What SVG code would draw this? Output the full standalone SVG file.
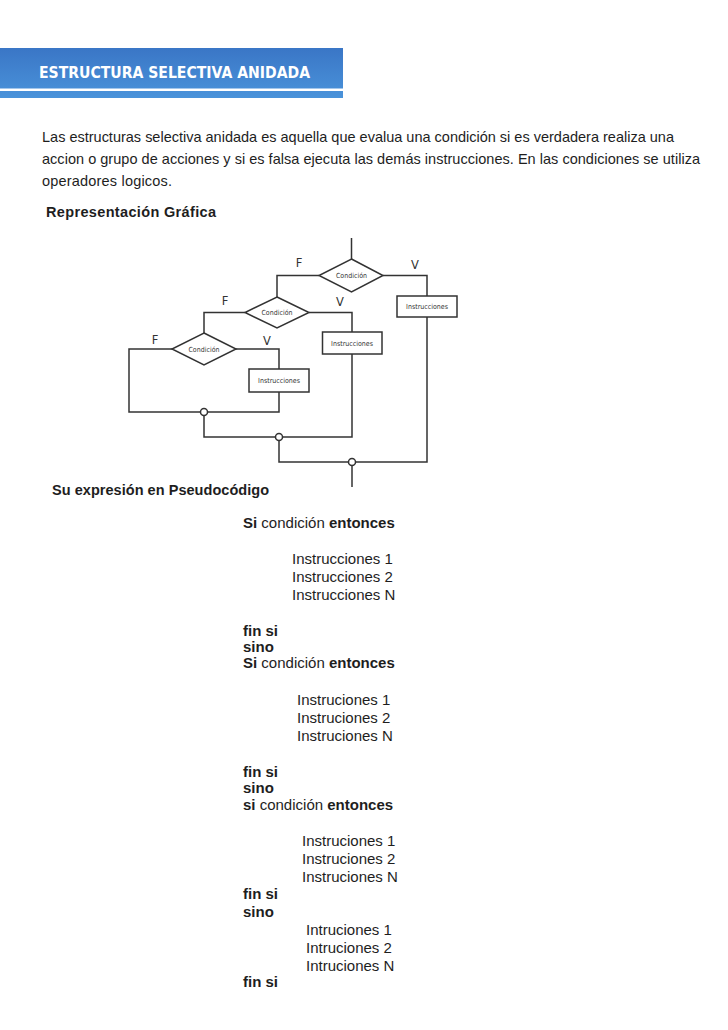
<svg xmlns="http://www.w3.org/2000/svg" width="728" height="1030" viewBox="0 0 728 1030">
<defs>
<linearGradient id="hdr" x1="0" y1="0" x2="0" y2="1">
<stop offset="0" stop-color="#3a76c6"/>
<stop offset="1" stop-color="#4a93da"/>
</linearGradient>
<style>
.body{font-family:"Liberation Sans",Arial,sans-serif;font-size:14.5px;fill:#1e1e1e}
.bold{font-weight:bold}
.ps{font-family:"Liberation Sans",Arial,sans-serif;font-size:15px;fill:#1e1e1e}
.ln{fill:none;stroke:#333;stroke-width:1.5}
.shape{fill:#fff;stroke:#333;stroke-width:1.5}
.small{font-family:"DejaVu Sans Condensed","DejaVu Sans",sans-serif;font-size:7px;fill:#333;text-anchor:middle}
.lab{font-family:"DejaVu Sans","Liberation Sans",sans-serif;font-size:11.5px;fill:#333;text-anchor:middle}
.jn{fill:#fff;stroke:#333;stroke-width:1.5}
</style>
</defs>
<rect width="728" height="1030" fill="#fff"/>
<g id="header">
<rect x="0" y="48" width="343" height="50" fill="url(#hdr)"/>
<rect x="0" y="88.5" width="343" height="2.5" fill="#fff"/>
<text x="39" y="78" font-family="'DejaVu Sans','Liberation Sans',sans-serif" font-weight="bold" font-size="16" fill="#fff" textLength="271" lengthAdjust="spacingAndGlyphs">ESTRUCTURA SELECTIVA ANIDADA</text>
</g>
<g id="intro">
<text class="body" x="42" y="142" textLength="632">Las estructuras selectiva anidada es aquella que evalua una condición si es verdadera realiza una</text>
<text class="body" x="42" y="164" textLength="658">accion o grupo de acciones y si es falsa ejecuta las demás instrucciones. En las condiciones se utiliza</text>
<text class="body" x="42" y="186" textLength="130">operadores logicos.</text>
<text class="body bold" x="46" y="217" font-size="15.5" textLength="170">Representación Gráfica</text>
</g>
<g id="connectors">
<path class="ln" d="M351.5 238 V259"/>
<path class="ln" d="M319 275.5 H277 V297"/>
<path class="ln" d="M383 275.5 H427 V296"/>
<path class="ln" d="M245 312.5 H204 V333"/>
<path class="ln" d="M309 312.5 H352 V332"/>
<path class="ln" d="M172 349 H129 V412 H279 V392"/>
<path class="ln" d="M236 349 H279 V369"/>
<path class="ln" d="M204 412 V437 H352 V354"/>
<path class="ln" d="M279 437 V462 H427 V317"/>
<path class="ln" d="M352 462 V487"/>
</g>
<g id="cond1">
<polygon class="shape" points="351.5,259 383,275.5 351.5,292 319,275.5"/>
<text class="small" x="351.5" y="278">Condición</text>
</g>
<g id="cond2">
<polygon class="shape" points="277,297 309,312.5 277,328 245,312.5"/>
<text class="small" x="277" y="315">Condición</text>
</g>
<g id="cond3">
<polygon class="shape" points="204,333 236,349 204,365 172,349"/>
<text class="small" x="204" y="351.5">Condición</text>
</g>
<g id="instr1">
<rect class="shape" x="397" y="296" width="60" height="21"/>
<text class="small" x="427" y="309">Instrucciones</text>
</g>
<g id="instr2">
<rect class="shape" x="322.5" y="332" width="59.5" height="22"/>
<text class="small" x="352" y="345.5">Instrucciones</text>
</g>
<g id="instr3">
<rect class="shape" x="249" y="369" width="60" height="23"/>
<text class="small" x="279" y="383">Instrucciones</text>
</g>
<g id="junctions">
<circle class="jn" cx="204" cy="412" r="3.5"/>
<circle class="jn" cx="279" cy="437" r="3.5"/>
<circle class="jn" cx="352" cy="462" r="3.5"/>
</g>
<g id="labels">
<text class="lab" x="299" y="267">F</text>
<text class="lab" x="415" y="269">V</text>
<text class="lab" x="225" y="305">F</text>
<text class="lab" x="340" y="306">V</text>
<text class="lab" x="155" y="344">F</text>
<text class="lab" x="267" y="345">V</text>
</g>
<g id="pseudocode">
<text class="body bold" x="52" y="495" font-size="16" textLength="217">Su expresión en Pseudocódigo</text>
<text class="ps" x="243" y="528"><tspan class="bold">Si</tspan> condición <tspan class="bold">entonces</tspan></text>
<text class="ps" x="292" y="564">Instrucciones 1</text>
<text class="ps" x="292" y="582">Instrucciones 2</text>
<text class="ps" x="292" y="600">Instrucciones N</text>
<text class="ps bold" x="243" y="636">fin si</text>
<text class="ps bold" x="243" y="652">sino</text>
<text class="ps" x="243" y="668"><tspan class="bold">Si</tspan> condición <tspan class="bold">entonces</tspan></text>
<text class="ps" x="297" y="705">Instruciones 1</text>
<text class="ps" x="297" y="723">Instruciones 2</text>
<text class="ps" x="297" y="741">Instruciones N</text>
<text class="ps bold" x="243" y="777">fin si</text>
<text class="ps bold" x="243" y="793">sino</text>
<text class="ps" x="243" y="810"><tspan class="bold">si</tspan> condición <tspan class="bold">entonces</tspan></text>
<text class="ps" x="302" y="846">Instruciones 1</text>
<text class="ps" x="302" y="864">Instruciones 2</text>
<text class="ps" x="302" y="882">Instruciones N</text>
<text class="ps bold" x="243" y="899">fin si</text>
<text class="ps bold" x="243" y="917">sino</text>
<text class="ps" x="306" y="935">Intruciones 1</text>
<text class="ps" x="306" y="953">Intruciones 2</text>
<text class="ps" x="306" y="971">Intruciones N</text>
<text class="ps bold" x="243" y="987">fin si</text>
</g>
</svg>
